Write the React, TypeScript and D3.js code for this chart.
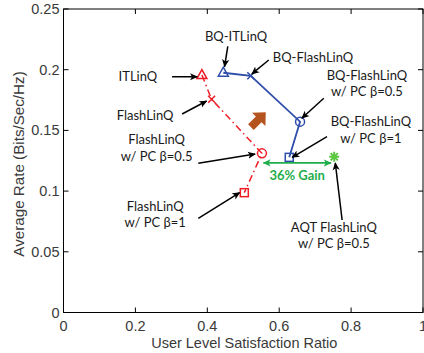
import * as d3 from "d3";
import { useEffect, useRef } from "react";

const WIDTH = 424;
const HEIGHT = 353;
const X_RANGE = [63.5, 423];
const Y_RANGE = [312.5, 9];

const xTicks = [0, 0.2, 0.4, 0.6, 0.8, 1];
const yTicks = [0, 0.05, 0.1, 0.15, 0.2, 0.25];

// [satisfaction ratio, average rate]
const redSeries: [number, number][] = [
  [0.385, 0.1956],
  [0.412, 0.1756],
  [0.552, 0.1311],
  [0.503, 0.0987],
];
const blueSeries: [number, number][] = [
  [0.4445, 0.1975],
  [0.521, 0.195],
  [0.658, 0.1572],
  [0.628, 0.1278],
];
const markerKinds = ["triangle", "cross", "circle", "square"];
const aqtPoint: [number, number] = [0.753, 0.1283];

// gain arrow from/to (data units)
const gainArrow: [number, number][] = [
  [0.556, 0.1232],
  [0.744, 0.1232],
];
const gainLabel = { text: "36% Gain", x: 0.65, y: 0.1125 };
const brownArrow = { x: 0.541, y: 0.1585 };

interface Note {
  lines: string[];
  x: number;
  y: number;
  from: [number, number];
  to: [number, number];
}

const notes: Note[] = [
  { lines: ["BQ-ITLinQ"], x: 0.48, y: 0.227, from: [0.457, 0.2192], to: [0.448, 0.2025] },
  { lines: ["BQ-FlashLinQ"], x: 0.694, y: 0.2105, from: [0.571, 0.208], to: [0.524, 0.1965] },
  { lines: ["BQ-FlashLinQ", "w/ PC \u03b2=0.5"], x: 0.844, y: 0.1885, from: [0.724, 0.1765], to: [0.663, 0.16] },
  { lines: ["BQ-FlashLinQ", "w/ PC \u03b2=1"], x: 0.855, y: 0.1505, from: [0.733, 0.1448], to: [0.636, 0.1278] },
  { lines: ["ITLinQ"], x: 0.207, y: 0.1942, from: [0.302, 0.1942], to: [0.372, 0.1942] },
  { lines: ["FlashLinQ"], x: 0.227, y: 0.162, from: [0.33, 0.1635], to: [0.398, 0.1742] },
  { lines: ["FlashLinQ", "w/ PC \u03b2=0.5"], x: 0.259, y: 0.1355, from: [0.375, 0.1229], to: [0.533, 0.1305] },
  { lines: ["FlashLinQ", "w/ PC \u03b2=1"], x: 0.255, y: 0.0807, from: [0.375, 0.0776], to: [0.49, 0.0987] },
  { lines: ["AQT FlashLinQ", "w/ PC \u03b2=0.5"], x: 0.752, y: 0.0635, from: [0.775, 0.0762], to: [0.756, 0.1232] },
];

const RED = "#ee1c25";
const BLUE = "#2f4daa";
const GREEN = "#1fae4b";
const FONT = "Lato, 'Open Sans', sans-serif";
const AXIS_FONT = "'Liberation Sans', Arial, sans-serif";

type G = d3.Selection<SVGGElement, unknown, null, undefined>;

function drawMarker(g: G, kind: string, px: number, py: number, color: string) {
  const s = g.append("g").attr("fill", "none").attr("stroke", color).attr("stroke-width", 1.5);
  if (kind === "triangle") {
    s.append("path").attr("d", `M${px},${py - 5.5}L${px + 5},${py + 3.5}L${px - 5},${py + 3.5}Z`);
  } else if (kind === "cross") {
    s.append("path").attr("d", `M${px - 3.5},${py - 3.5}L${px + 3.5},${py + 3.5}M${px - 3.5},${py + 3.5}L${px + 3.5},${py - 3.5}`);
  } else if (kind === "circle") {
    s.append("circle").attr("cx", px).attr("cy", py).attr("r", 4.5);
  } else {
    s.append("rect").attr("x", px - 4).attr("y", py - 4).attr("width", 8).attr("height", 8);
  }
}

export default function App() {
  const svgRef = useRef<SVGSVGElement>(null);

  useEffect(() => {
    const svg = d3.select(svgRef.current);
    svg.selectAll("*").remove();
    const g = svg.append("g") as G;

    const x = d3.scaleLinear().domain([0, 1]).range(X_RANGE);
    const y = d3.scaleLinear().domain([0, 0.25]).range(Y_RANGE);

    const defs = svg.append("defs");
    const mk = (id: string, color: string) =>
      defs
        .append("marker")
        .attr("id", id)
        .attr("viewBox", "0 0 10 10")
        .attr("refX", 9)
        .attr("refY", 5)
        .attr("markerWidth", 8)
        .attr("markerHeight", 8)
        .attr("markerUnits", "userSpaceOnUse")
        .attr("orient", "auto-start-reverse")
        .append("path")
        .attr("d", "M0,0.5L10,5L0,9.5L2.5,5Z")
        .attr("fill", color);
    mk("ah", "#000");
    mk("ahg", GREEN);

    // axes box
    const [x0, x1] = X_RANGE;
    const [y0, y1] = Y_RANGE;
    g.append("rect")
      .attr("x", x0)
      .attr("y", y1)
      .attr("width", x1 - x0)
      .attr("height", y0 - y1)
      .attr("fill", "#fff")
      .attr("stroke", "#000")
      .attr("stroke-width", 1);

    const tk = g.append("g").attr("stroke", "#000").attr("stroke-width", 1);
    xTicks.forEach((t) => {
      tk.append("line").attr("x1", x(t)).attr("x2", x(t)).attr("y1", y0).attr("y2", y0 - 5);
      tk.append("line").attr("x1", x(t)).attr("x2", x(t)).attr("y1", y1).attr("y2", y1 + 5);
    });
    yTicks.forEach((t) => {
      tk.append("line").attr("x1", x0).attr("x2", x0 + 5).attr("y1", y(t)).attr("y2", y(t));
      tk.append("line").attr("x1", x1).attr("x2", x1 - 5).attr("y1", y(t)).attr("y2", y(t));
    });

    const lab = g.append("g").attr("font-family", AXIS_FONT).attr("font-size", 14.5).attr("fill", "#3a3a3a");
    lab
      .selectAll("text.xt")
      .data(xTicks)
      .join("text")
      .attr("x", (d) => x(d))
      .attr("y", y0 + 18)
      .attr("text-anchor", "middle")
      .text((d) => String(d));
    lab
      .selectAll("text.yt")
      .data(yTicks)
      .join("text")
      .attr("x", x0 - 4)
      .attr("y", (d) => y(d))
      .attr("dy", "0.35em")
      .attr("text-anchor", "end")
      .text((d) => String(d));
    lab
      .append("text")
      .attr("x", (x0 + x1) / 2 + 1)
      .attr("y", y0 + 35)
      .attr("text-anchor", "middle")
      .text("User Level Satisfaction Ratio");
    lab
      .append("text")
      .attr("transform", `translate(24,164) rotate(-90)`)
      .attr("text-anchor", "middle")
      .attr("font-size", 15.2)
      .text("Average Rate (Bits/Sec/Hz)");

    // series lines
    const line = d3
      .line<[number, number]>()
      .x((d) => x(d[0]))
      .y((d) => y(d[1]));
    g.append("path")
      .attr("d", line(redSeries) ?? "")
      .attr("fill", "none")
      .attr("stroke", RED)
      .attr("stroke-width", 1.5)
      .attr("stroke-dasharray", "7,3.5,1.5,3.5");
    g.append("path")
      .attr("d", line(blueSeries) ?? "")
      .attr("fill", "none")
      .attr("stroke", BLUE)
      .attr("stroke-width", 1.8);
    redSeries.forEach((p, i) => drawMarker(g, markerKinds[i], x(p[0]), y(p[1]), RED));
    blueSeries.forEach((p, i) => drawMarker(g, markerKinds[i], x(p[0]), y(p[1]), BLUE));

    // AQT star
    const sx = x(aqtPoint[0]);
    const sy = y(aqtPoint[1]);
    g.append("path")
      .attr(
        "d",
        `M${sx - 5},${sy}L${sx + 5},${sy}M${sx},${sy - 5}L${sx},${sy + 5}M${sx - 3.6},${sy - 3.6}L${sx + 3.6},${sy + 3.6}M${sx - 3.6},${sy + 3.6}L${sx + 3.6},${sy - 3.6}`,
      )
      .attr("stroke", "#5cc840")
      .attr("stroke-width", 2);

    // gain arrow
    g.append("line")
      .attr("x1", x(gainArrow[0][0]))
      .attr("y1", y(gainArrow[0][1]))
      .attr("x2", x(gainArrow[1][0]))
      .attr("y2", y(gainArrow[1][1]))
      .attr("stroke", GREEN)
      .attr("stroke-width", 1.8)
      .attr("marker-start", "url(#ahg)")
      .attr("marker-end", "url(#ahg)");
    g.append("text")
      .attr("x", x(gainLabel.x))
      .attr("y", y(gainLabel.y))
      .attr("dy", "0.35em")
      .attr("text-anchor", "middle")
      .attr("font-family", FONT)
      .attr("font-weight", "bold")
      .attr("font-size", 13)
      .attr("fill", GREEN)
      .text(gainLabel.text);

    // brown block arrow (pointing up-right)
    g.append("path")
      .attr("transform", `translate(${x(brownArrow.x)},${y(brownArrow.y)}) rotate(-45)`)
      .attr("d", "M-10,-4L1,-4L1,-9.5L11,0L1,9.5L1,4L-10,4Z")
      .attr("fill", "#b5531f");

    // annotations
    const ann = g.append("g").attr("font-family", FONT).attr("font-size", 13).attr("fill", "#1a1a1a");
    notes.forEach((n) => {
      const lh = 16.5;
      const top = y(n.y) - ((n.lines.length - 1) * lh) / 2;
      n.lines.forEach((t, i) => {
        ann
          .append("text")
          .attr("x", x(n.x))
          .attr("y", top + i * lh)
          .attr("dy", "0.35em")
          .attr("text-anchor", "middle")
          .text(t);
      });
      g.append("line")
        .attr("x1", x(n.from[0]))
        .attr("y1", y(n.from[1]))
        .attr("x2", x(n.to[0]))
        .attr("y2", y(n.to[1]))
        .attr("stroke", "#000")
        .attr("stroke-width", 1.5)
        .attr("marker-end", "url(#ah)");
    });
  }, []);

  return (
    <div style={{ position: "absolute", left: 0, top: 0, width: WIDTH, height: HEIGHT, overflow: "hidden", background: "#fff" }}>
      <svg ref={svgRef} width={WIDTH} height={HEIGHT} style={{ display: "block" }} />
    </div>
  );
}
